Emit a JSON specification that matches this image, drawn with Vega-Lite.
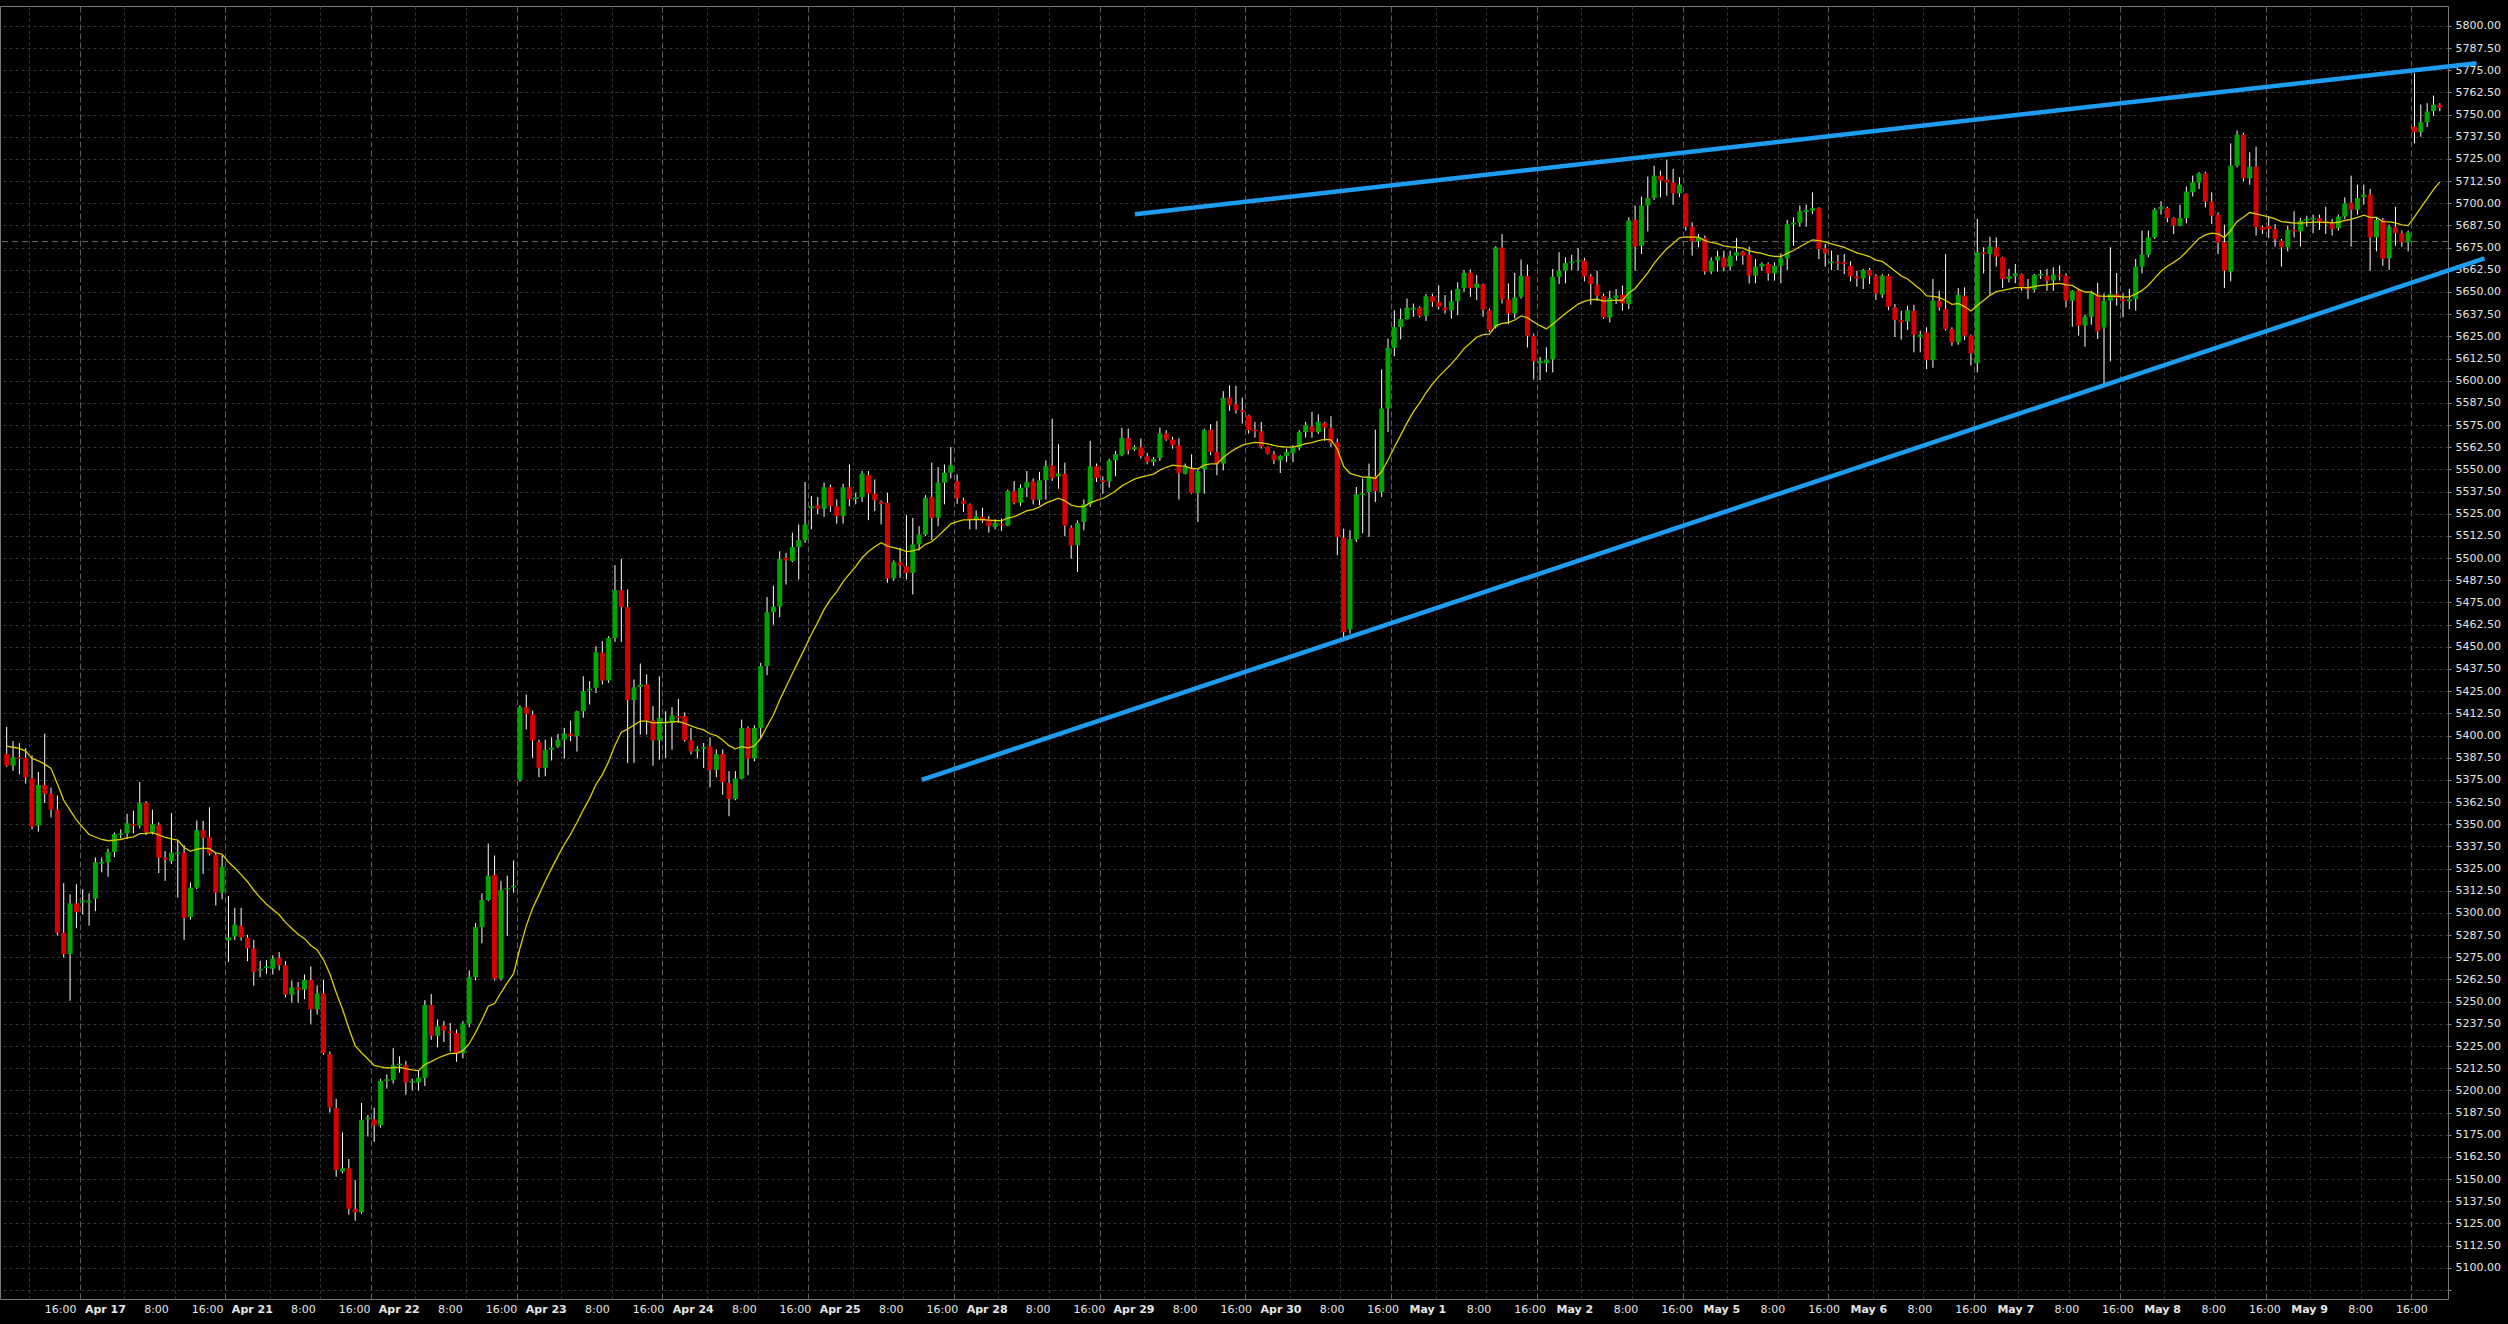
{
  "$schema": "https://vega.github.io/schema/vega-lite/v6.json",
  "background": "#000000",
  "autosize": {"type": "none"},
  "padding": {"left": 0, "top": 6, "right": 60, "bottom": 25},
  "width": 2448,
  "height": 1293,
  "config": {
    "view": {"stroke": "#7a7a7a", "strokeWidth": 1},
    "axis": {"labelFont": "DejaVu Sans", "labelFontSize": 11, "labelColor": "#e6e6e6"}
  },
  "datasets": {
    "cross": [{"p": 5678.4}],
    "trend": [
      {"line": "upper", "k": 178.06, "p": 5693.8},
      {"line": "upper", "k": 389.8, "p": 5778.9},
      {"line": "lower", "k": 144.4, "p": 5375.0},
      {"line": "lower", "k": 391.05, "p": 5669.0}
    ],
    "bars": [
      {"k":0,"o":5389.6,"h":5404.9,"l":5382.4,"c":5383,"m":5394.0},
      {"k":1,"o":5383,"h":5396.9,"l":5380.1,"c":5387.7,"m":5393.4},
      {"k":2,"o":5387.7,"h":5395.7,"l":5378.2,"c":5386.8,"m":5392.8},
      {"k":3,"o":5387.3,"h":5392.9,"l":5372.9,"c":5376.3,"m":5391.2},
      {"k":4,"o":5375.9,"h":5388.7,"l":5347,"c":5348.6,"m":5387.1},
      {"k":5,"o":5349.2,"h":5379.5,"l":5345.8,"c":5372.1,"m":5385.7},
      {"k":6,"o":5372.1,"h":5401.1,"l":5362,"c":5367.1,"m":5383.9},
      {"k":7,"o":5367.1,"h":5370.6,"l":5353.8,"c":5358.2,"m":5381.5},
      {"k":8,"o":5358.2,"h":5366.2,"l":5287.3,"c":5288.9,"m":5372.7},
      {"k":9,"o":5288.9,"h":5316.8,"l":5274.9,"c":5276.8,"m":5363.5},
      {"k":10,"o":5276.8,"h":5310.5,"l":5250.5,"c":5305.4,"m":5358.0},
      {"k":11,"o":5305.4,"h":5316.2,"l":5291.4,"c":5300.4,"m":5352.5},
      {"k":12,"o":5306,"h":5313.4,"l":5299.1,"c":5307,"m":5348.2},
      {"k":13,"o":5306,"h":5311.1,"l":5292.8,"c":5307,"m":5344.2},
      {"k":14,"o":5308,"h":5331.3,"l":5301,"c":5328.6,"m":5342.8},
      {"k":15,"o":5327.8,"h":5331.3,"l":5322.9,"c":5328.8,"m":5341.4},
      {"k":16,"o":5328.6,"h":5336.2,"l":5320.4,"c":5334.3,"m":5340.7},
      {"k":17,"o":5334.3,"h":5345.4,"l":5331.5,"c":5344.4,"m":5341.1},
      {"k":18,"o":5344,"h":5347.1,"l":5342,"c":5344.8,"m":5341.4},
      {"k":19,"o":5344.8,"h":5355.9,"l":5341.6,"c":5350.5,"m":5342.3},
      {"k":20,"o":5350.2,"h":5357.6,"l":5344.8,"c":5349.2,"m":5342.9},
      {"k":21,"o":5349.2,"h":5373.8,"l":5347.7,"c":5362,"m":5344.7},
      {"k":22,"o":5362,"h":5363,"l":5343.9,"c":5345.4,"m":5344.8},
      {"k":23,"o":5345.4,"h":5358.2,"l":5344.3,"c":5350,"m":5345.3},
      {"k":24,"o":5349.6,"h":5351.1,"l":5322.5,"c":5331.1,"m":5344.0},
      {"k":25,"o":5331.1,"h":5334.9,"l":5318.1,"c":5330.1,"m":5342.6},
      {"k":26,"o":5329.2,"h":5356.3,"l":5327.7,"c":5334,"m":5341.8},
      {"k":27,"o":5333.4,"h":5341,"l":5308.6,"c":5334.2,"m":5341.1},
      {"k":28,"o":5334,"h":5338.2,"l":5284.8,"c":5297.2,"m":5336.9},
      {"k":29,"o":5297.7,"h":5317.2,"l":5296.2,"c":5314.3,"m":5334.7},
      {"k":30,"o":5314.3,"h":5352.1,"l":5313.4,"c":5346.7,"m":5335.9},
      {"k":31,"o":5346.7,"h":5351.9,"l":5321.9,"c":5342.3,"m":5336.5},
      {"k":32,"o":5342.9,"h":5359.5,"l":5332.4,"c":5333.4,"m":5336.2},
      {"k":33,"o":5332.8,"h":5334,"l":5304.2,"c":5311.5,"m":5333.9},
      {"k":34,"o":5311.5,"h":5332.4,"l":5307.7,"c":5326.1,"m":5333.1},
      {"k":35,"o":5284.4,"h":5309.6,"l":5272.4,"c":5286.3,"m":5328.7},
      {"k":36,"o":5286.7,"h":5302.9,"l":5284.8,"c":5293.4,"m":5325.3},
      {"k":37,"o":5292.8,"h":5302.9,"l":5284.4,"c":5286.3,"m":5321.6},
      {"k":38,"o":5286.1,"h":5287.6,"l":5272.8,"c":5280,"m":5317.6},
      {"k":39,"o":5280,"h":5284.8,"l":5259,"c":5266.7,"m":5312.8},
      {"k":40,"o":5267.6,"h":5273,"l":5263.8,"c":5268.4,"m":5308.6},
      {"k":41,"o":5269,"h":5273.4,"l":5265.7,"c":5269.8,"m":5304.9},
      {"k":42,"o":5268.6,"h":5276.2,"l":5265.3,"c":5274.3,"m":5302.0},
      {"k":43,"o":5274.7,"h":5277.9,"l":5267.6,"c":5270.5,"m":5299.0},
      {"k":44,"o":5270.5,"h":5273,"l":5252.4,"c":5253.9,"m":5294.7},
      {"k":45,"o":5253.9,"h":5261.9,"l":5249.5,"c":5258.1,"m":5291.2},
      {"k":46,"o":5258,"h":5261,"l":5249.5,"c":5256.8,"m":5288.0},
      {"k":47,"o":5256.8,"h":5265.3,"l":5251.4,"c":5262.3,"m":5285.5},
      {"k":48,"o":5262.3,"h":5269.9,"l":5237.5,"c":5245.7,"m":5281.7},
      {"k":49,"o":5245.7,"h":5259.2,"l":5242.8,"c":5254.7,"m":5279.2},
      {"k":50,"o":5254.7,"h":5262.3,"l":5220,"c":5220.9,"m":5273.6},
      {"k":51,"o":5220.5,"h":5221.9,"l":5187.5,"c":5190.4,"m":5265.7},
      {"k":52,"o":5190,"h":5195.2,"l":5151.3,"c":5155.1,"m":5255.2},
      {"k":53,"o":5154.2,"h":5176.2,"l":5153.2,"c":5156.1,"m":5245.7},
      {"k":54,"o":5156.1,"h":5161.3,"l":5130,"c":5133.2,"m":5235.0},
      {"k":55,"o":5133.2,"h":5149.4,"l":5126.5,"c":5131.3,"m":5225.1},
      {"k":56,"o":5131.3,"h":5192.9,"l":5130.4,"c":5183.2,"m":5221.2},
      {"k":57,"o":5183.7,"h":5186.1,"l":5174,"c":5184.6,"m":5217.7},
      {"k":58,"o":5183.7,"h":5190.2,"l":5171,"c":5180.3,"m":5214.1},
      {"k":59,"o":5180.3,"h":5206.6,"l":5179,"c":5205.3,"m":5213.3},
      {"k":60,"o":5205.3,"h":5209,"l":5201,"c":5206.3,"m":5212.6},
      {"k":61,"o":5205.7,"h":5223.8,"l":5203.8,"c":5214.2,"m":5212.8},
      {"k":62,"o":5214,"h":5219.1,"l":5210,"c":5215,"m":5213.0},
      {"k":63,"o":5214.2,"h":5216.5,"l":5197.5,"c":5204.4,"m":5212.2},
      {"k":64,"o":5204.4,"h":5206.6,"l":5200,"c":5205.3,"m":5211.5},
      {"k":65,"o":5204.5,"h":5211.4,"l":5200,"c":5207.2,"m":5211.1},
      {"k":66,"o":5207,"h":5250.8,"l":5202.4,"c":5248.2,"m":5214.6},
      {"k":67,"o":5248.2,"h":5254.3,"l":5228.5,"c":5230.8,"m":5216.2},
      {"k":68,"o":5230.8,"h":5240,"l":5224.2,"c":5236.2,"m":5218.1},
      {"k":69,"o":5236.5,"h":5239,"l":5227.2,"c":5233.7,"m":5219.6},
      {"k":70,"o":5233.3,"h":5238,"l":5221.9,"c":5232.3,"m":5220.8},
      {"k":71,"o":5232.3,"h":5234.3,"l":5216.1,"c":5220.9,"m":5220.8},
      {"k":72,"o":5220.9,"h":5239,"l":5218,"c":5237.7,"m":5222.4},
      {"k":73,"o":5237.7,"h":5267.6,"l":5235.6,"c":5263.8,"m":5226.3},
      {"k":74,"o":5263.8,"h":5294.3,"l":5261.9,"c":5292,"m":5232.6},
      {"k":75,"o":5292,"h":5311.1,"l":5282.9,"c":5307.3,"m":5239.7},
      {"k":76,"o":5307.3,"h":5339.1,"l":5306.7,"c":5321,"m":5247.4},
      {"k":77,"o":5321.4,"h":5332.4,"l":5261.9,"c":5262.9,"m":5248.9},
      {"k":78,"o":5262.9,"h":5318.1,"l":5261.9,"c":5313,"m":5255.0},
      {"k":79,"o":5313.2,"h":5321,"l":5287,"c":5314,"m":5260.6},
      {"k":80,"o":5314.5,"h":5329.6,"l":5311.5,"c":5315.3,"m":5265.8},
      {"k":81,"o":5375,"h":5417,"l":5374,"c":5416,"m":5280.1},
      {"k":82,"o":5416,"h":5423.1,"l":5403.4,"c":5412.2,"m":5292.7},
      {"k":83,"o":5411.8,"h":5414,"l":5387.4,"c":5397.2,"m":5302.6},
      {"k":84,"o":5396.2,"h":5397.7,"l":5376.5,"c":5381.7,"m":5310.2},
      {"k":85,"o":5381.7,"h":5397.7,"l":5377,"c":5392,"m":5318.0},
      {"k":86,"o":5392,"h":5399,"l":5385.9,"c":5393.2,"m":5325.1},
      {"k":87,"o":5393.8,"h":5400.9,"l":5393,"c":5397.7,"m":5332.0},
      {"k":88,"o":5397.7,"h":5404.3,"l":5387,"c":5401.1,"m":5338.6},
      {"k":89,"o":5401.1,"h":5408.4,"l":5396.8,"c":5399.8,"m":5344.4},
      {"k":90,"o":5399.8,"h":5414,"l":5391,"c":5413.7,"m":5351.0},
      {"k":91,"o":5413.7,"h":5433.4,"l":5410,"c":5425,"m":5358.1},
      {"k":92,"o":5425.4,"h":5430.6,"l":5417.5,"c":5426.4,"m":5364.6},
      {"k":93,"o":5426.9,"h":5450.4,"l":5424,"c":5446.9,"m":5372.4},
      {"k":94,"o":5446.6,"h":5453.2,"l":5428.7,"c":5431,"m":5378.0},
      {"k":95,"o":5431,"h":5456,"l":5429.7,"c":5455,"m":5385.3},
      {"k":96,"o":5455,"h":5496,"l":5452.8,"c":5482,"m":5394.5},
      {"k":97,"o":5482,"h":5499.6,"l":5452.8,"c":5472.4,"m":5401.9},
      {"k":98,"o":5472.4,"h":5482.3,"l":5384.6,"c":5419.9,"m":5403.6},
      {"k":99,"o":5419.9,"h":5431.6,"l":5384.6,"c":5427.2,"m":5405.9},
      {"k":100,"o":5427.4,"h":5440.6,"l":5400.5,"c":5428.7,"m":5408.1},
      {"k":101,"o":5428.7,"h":5434.4,"l":5400.5,"c":5408.4,"m":5408.1},
      {"k":102,"o":5408.4,"h":5416.5,"l":5383,"c":5397.3,"m":5407.1},
      {"k":103,"o":5397.3,"h":5433.4,"l":5386.4,"c":5409.9,"m":5407.3},
      {"k":104,"o":5406.7,"h":5413.7,"l":5387.4,"c":5407.6,"m":5407.4},
      {"k":105,"o":5407.1,"h":5416,"l":5392,"c":5411.4,"m":5407.7},
      {"k":106,"o":5410.9,"h":5420.6,"l":5407.1,"c":5410,"m":5408.0},
      {"k":107,"o":5410.9,"h":5413.1,"l":5396.4,"c":5397.3,"m":5406.9},
      {"k":108,"o":5397.3,"h":5404.3,"l":5389.3,"c":5391.1,"m":5405.4},
      {"k":109,"o":5391.1,"h":5394,"l":5387,"c":5392.3,"m":5404.2},
      {"k":110,"o":5392.6,"h":5395.8,"l":5381.7,"c":5393.6,"m":5403.2},
      {"k":111,"o":5393.9,"h":5399,"l":5370.8,"c":5380.6,"m":5401.0},
      {"k":112,"o":5380.6,"h":5392.1,"l":5376.5,"c":5389.6,"m":5399.9},
      {"k":113,"o":5389.6,"h":5392.1,"l":5366.7,"c":5373.8,"m":5397.5},
      {"k":114,"o":5373.3,"h":5379.9,"l":5354.5,"c":5364.3,"m":5394.3},
      {"k":115,"o":5364.3,"h":5379.9,"l":5363.5,"c":5375.7,"m":5392.5},
      {"k":116,"o":5375.7,"h":5409,"l":5375.2,"c":5404.3,"m":5393.7},
      {"k":117,"o":5404.3,"h":5405.2,"l":5377.6,"c":5387,"m":5393.0},
      {"k":118,"o":5387,"h":5405.8,"l":5385.5,"c":5404.3,"m":5394.1},
      {"k":119,"o":5404.3,"h":5441,"l":5398.7,"c":5439.1,"m":5398.4},
      {"k":120,"o":5439.1,"h":5478,"l":5434,"c":5469.5,"m":5405.2},
      {"k":121,"o":5469.5,"h":5484.5,"l":5462.5,"c":5472.7,"m":5411.6},
      {"k":122,"o":5472.7,"h":5503.9,"l":5466.7,"c":5499.6,"m":5420.0},
      {"k":123,"o":5500.2,"h":5503,"l":5485.1,"c":5498.7,"m":5427.5},
      {"k":124,"o":5498.3,"h":5514.3,"l":5497.8,"c":5506.2,"m":5435.0},
      {"k":125,"o":5506.2,"h":5519,"l":5487.9,"c":5510.1,"m":5442.2},
      {"k":126,"o":5510,"h":5542.9,"l":5508.6,"c":5519,"m":5449.5},
      {"k":127,"o":5528,"h":5535,"l":5516.2,"c":5529.3,"m":5457.1},
      {"k":128,"o":5529.9,"h":5534.4,"l":5524.6,"c":5527.8,"m":5463.8},
      {"k":129,"o":5527.8,"h":5542.5,"l":5523.3,"c":5540,"m":5471.1},
      {"k":130,"o":5540,"h":5541.5,"l":5526.1,"c":5529.3,"m":5476.6},
      {"k":131,"o":5529.3,"h":5533.1,"l":5519.4,"c":5523.7,"m":5481.1},
      {"k":132,"o":5523.7,"h":5541.9,"l":5519.4,"c":5540,"m":5486.7},
      {"k":133,"o":5540,"h":5552.8,"l":5529.3,"c":5533.1,"m":5491.1},
      {"k":134,"o":5533.2,"h":5536.8,"l":5530.3,"c":5534.4,"m":5495.3},
      {"k":135,"o":5534.4,"h":5549.1,"l":5531.6,"c":5547.6,"m":5500.2},
      {"k":136,"o":5546.8,"h":5549.1,"l":5521.4,"c":5536.3,"m":5503.7},
      {"k":137,"o":5536.3,"h":5544.4,"l":5526.5,"c":5532.5,"m":5506.4},
      {"k":138,"o":5531.8,"h":5532.5,"l":5519,"c":5530.6,"m":5508.7},
      {"k":139,"o":5531.2,"h":5536.8,"l":5486.1,"c":5488.5,"m":5506.8},
      {"k":140,"o":5488.5,"h":5498.7,"l":5487.4,"c":5497.7,"m":5505.9},
      {"k":141,"o":5497.7,"h":5505.8,"l":5488.9,"c":5495.9,"m":5505.0},
      {"k":142,"o":5495.5,"h":5524.2,"l":5487.9,"c":5491.7,"m":5503.7},
      {"k":143,"o":5491.7,"h":5522.7,"l":5479.5,"c":5507.7,"m":5504.1},
      {"k":144,"o":5507.7,"h":5518,"l":5504.3,"c":5513.3,"m":5505.0},
      {"k":145,"o":5513.3,"h":5535.5,"l":5512.4,"c":5534,"m":5507.8},
      {"k":146,"o":5534.4,"h":5553.8,"l":5510.1,"c":5522.7,"m":5509.2},
      {"k":147,"o":5522.7,"h":5551.3,"l":5518,"c":5542.5,"m":5512.4},
      {"k":148,"o":5542.5,"h":5552.8,"l":5530.3,"c":5548.1,"m":5515.8},
      {"k":149,"o":5548.1,"h":5562.6,"l":5544.9,"c":5552.4,"m":5519.3},
      {"k":150,"o":5543.4,"h":5547.2,"l":5530.6,"c":5533.6,"m":5520.6},
      {"k":151,"o":5532.5,"h":5534,"l":5526.1,"c":5530.6,"m":5521.6},
      {"k":152,"o":5530.3,"h":5530.8,"l":5516.2,"c":5521.8,"m":5521.6},
      {"k":153,"o":5521.8,"h":5526.9,"l":5516.2,"c":5523.7,"m":5521.8},
      {"k":154,"o":5523.3,"h":5528.4,"l":5519.9,"c":5521.2,"m":5521.7},
      {"k":155,"o":5521.8,"h":5523.7,"l":5514.3,"c":5518,"m":5521.4},
      {"k":156,"o":5517.5,"h":5521.8,"l":5516.2,"c":5519.9,"m":5521.2},
      {"k":157,"o":5519.4,"h":5522.3,"l":5515.2,"c":5518.4,"m":5521.0},
      {"k":158,"o":5518.4,"h":5538.7,"l":5518,"c":5537.8,"m":5522.6},
      {"k":159,"o":5537.8,"h":5543.4,"l":5530.3,"c":5531.2,"m":5523.4},
      {"k":160,"o":5531.2,"h":5541.5,"l":5529.3,"c":5539.7,"m":5524.9},
      {"k":161,"o":5539.7,"h":5549.1,"l":5534.4,"c":5542.9,"m":5526.7},
      {"k":162,"o":5543.3,"h":5544.8,"l":5530.3,"c":5532.9,"m":5527.3},
      {"k":163,"o":5532.9,"h":5548.6,"l":5529.8,"c":5543.9,"m":5528.9},
      {"k":164,"o":5543.9,"h":5555.1,"l":5533,"c":5551.8,"m":5531.0},
      {"k":165,"o":5552.1,"h":5578.6,"l":5543.5,"c":5545.2,"m":5532.4},
      {"k":166,"o":5546.1,"h":5564.2,"l":5539.2,"c":5547.6,"m":5533.8},
      {"k":167,"o":5547.6,"h":5553.8,"l":5512.3,"c":5518.3,"m":5532.3},
      {"k":168,"o":5517.2,"h":5518.5,"l":5499.7,"c":5507.2,"m":5529.9},
      {"k":169,"o":5507.2,"h":5521.3,"l":5492.2,"c":5519.8,"m":5529.0},
      {"k":170,"o":5520.4,"h":5533.1,"l":5515.7,"c":5530.3,"m":5529.1},
      {"k":171,"o":5530.3,"h":5566.1,"l":5528.8,"c":5551.8,"m":5531.3},
      {"k":172,"o":5551.8,"h":5553.3,"l":5542.9,"c":5545.2,"m":5532.6},
      {"k":173,"o":5543.9,"h":5546.1,"l":5536.3,"c":5542.9,"m":5533.6},
      {"k":174,"o":5543.3,"h":5556.1,"l":5539.7,"c":5555.1,"m":5535.6},
      {"k":175,"o":5555.1,"h":5560.4,"l":5546.1,"c":5558.5,"m":5537.8},
      {"k":176,"o":5558,"h":5573.4,"l":5557.4,"c":5567.7,"m":5540.7},
      {"k":177,"o":5567.7,"h":5573,"l":5558.5,"c":5560.8,"m":5542.6},
      {"k":178,"o":5561.2,"h":5563.6,"l":5560.4,"c":5562.5,"m":5544.5},
      {"k":179,"o":5562.5,"h":5567.4,"l":5556.1,"c":5557.4,"m":5545.7},
      {"k":180,"o":5557.4,"h":5559.3,"l":5552.9,"c":5554.2,"m":5546.5},
      {"k":181,"o":5554.2,"h":5557,"l":5552,"c":5555.9,"m":5547.4},
      {"k":182,"o":5556.5,"h":5573.6,"l":5554.8,"c":5570.2,"m":5549.6},
      {"k":183,"o":5570.2,"h":5572.1,"l":5566.1,"c":5566.8,"m":5551.2},
      {"k":184,"o":5566.8,"h":5568.3,"l":5561.7,"c":5563.6,"m":5552.4},
      {"k":185,"o":5563.6,"h":5567.4,"l":5533,"c":5548,"m":5552.0},
      {"k":186,"o":5547.6,"h":5553.3,"l":5547.2,"c":5551.4,"m":5551.9},
      {"k":187,"o":5550.5,"h":5558.5,"l":5536.3,"c":5536.7,"m":5550.5},
      {"k":188,"o":5536.7,"h":5549.9,"l":5520.4,"c":5548.9,"m":5550.3},
      {"k":189,"o":5549.9,"h":5573,"l":5536.3,"c":5572.1,"m":5552.4},
      {"k":190,"o":5572.4,"h":5575.5,"l":5558,"c":5559.8,"m":5553.1},
      {"k":191,"o":5559.8,"h":5577.2,"l":5546.7,"c":5553.3,"m":5553.1},
      {"k":192,"o":5553.3,"h":5594.1,"l":5549.5,"c":5590.3,"m":5556.7},
      {"k":193,"o":5590.5,"h":5597.4,"l":5583,"c":5586.2,"m":5559.5},
      {"k":194,"o":5586.7,"h":5597.1,"l":5581.5,"c":5583.3,"m":5561.7},
      {"k":195,"o":5583.3,"h":5590.5,"l":5575.8,"c":5582.4,"m":5563.7},
      {"k":196,"o":5580.5,"h":5580.8,"l":5570.2,"c":5572.1,"m":5564.5},
      {"k":197,"o":5572.4,"h":5576.8,"l":5567.9,"c":5571.5,"m":5565.2},
      {"k":198,"o":5571.5,"h":5576.8,"l":5561.7,"c":5562.7,"m":5564.9},
      {"k":199,"o":5562.7,"h":5563,"l":5558.5,"c":5558.9,"m":5564.4},
      {"k":200,"o":5558.5,"h":5560.4,"l":5553,"c":5555.1,"m":5563.5},
      {"k":201,"o":5555.1,"h":5558,"l":5548,"c":5557.6,"m":5562.9},
      {"k":202,"o":5557.6,"h":5561.7,"l":5554.2,"c":5559.8,"m":5562.6},
      {"k":203,"o":5559.3,"h":5563.6,"l":5554.2,"c":5562.3,"m":5562.6},
      {"k":204,"o":5562.3,"h":5572.1,"l":5560.8,"c":5571.1,"m":5563.4},
      {"k":205,"o":5571.1,"h":5576.8,"l":5567.9,"c":5574.9,"m":5564.5},
      {"k":206,"o":5574.3,"h":5582.4,"l":5567.9,"c":5571.1,"m":5565.1},
      {"k":207,"o":5571.1,"h":5581.1,"l":5570,"c":5576.8,"m":5566.2},
      {"k":208,"o":5576.2,"h":5576.8,"l":5566.1,"c":5573.6,"m":5566.9},
      {"k":209,"o":5573.2,"h":5580,"l":5562.7,"c":5564.9,"m":5566.7},
      {"k":210,"o":5565.3,"h":5567.4,"l":5501.6,"c":5511.9,"m":5561.5},
      {"k":211,"o":5511.5,"h":5516.6,"l":5455.5,"c":5458.3,"m":5551.7},
      {"k":212,"o":5459.8,"h":5515.7,"l":5457.4,"c":5510.6,"m":5547.8},
      {"k":213,"o":5510.6,"h":5540.1,"l":5509.1,"c":5536,"m":5546.7},
      {"k":214,"o":5535.6,"h":5544.8,"l":5514,"c":5536.5,"m":5545.7},
      {"k":215,"o":5537.3,"h":5553.3,"l":5511.9,"c":5546.1,"m":5545.7},
      {"k":216,"o":5546.1,"h":5572.4,"l":5531.6,"c":5537.7,"m":5544.9},
      {"k":217,"o":5537.3,"h":5606.3,"l":5534.5,"c":5584.3,"m":5548.7},
      {"k":218,"o":5584.3,"h":5623.8,"l":5571.1,"c":5618.5,"m":5555.3},
      {"k":219,"o":5618.5,"h":5639.7,"l":5613.8,"c":5630.2,"m":5562.5},
      {"k":220,"o":5630.2,"h":5640.7,"l":5623.2,"c":5634.7,"m":5569.3},
      {"k":221,"o":5634.7,"h":5646.3,"l":5634.5,"c":5641.1,"m":5576.2},
      {"k":222,"o":5640.1,"h":5643.5,"l":5636,"c":5641.2,"m":5582.4},
      {"k":223,"o":5641.2,"h":5642,"l":5635.6,"c":5636.5,"m":5587.5},
      {"k":224,"o":5636.5,"h":5648.8,"l":5633.7,"c":5647.6,"m":5593.2},
      {"k":225,"o":5647.6,"h":5649.1,"l":5641.6,"c":5644.4,"m":5598.1},
      {"k":226,"o":5644.3,"h":5653.8,"l":5640.1,"c":5641.6,"m":5602.3},
      {"k":227,"o":5641.2,"h":5648.2,"l":5637.9,"c":5639.7,"m":5605.8},
      {"k":228,"o":5639.7,"h":5651,"l":5635,"c":5644.8,"m":5609.5},
      {"k":229,"o":5644.8,"h":5655.5,"l":5636.9,"c":5651.8,"m":5613.6},
      {"k":230,"o":5652.2,"h":5662.3,"l":5650.1,"c":5660.8,"m":5618.1},
      {"k":231,"o":5660.8,"h":5662.7,"l":5647.3,"c":5652.2,"m":5621.3},
      {"k":232,"o":5652.3,"h":5659.5,"l":5645.4,"c":5654.8,"m":5624.5},
      {"k":233,"o":5654.4,"h":5654.8,"l":5636,"c":5640.1,"m":5626.0},
      {"k":234,"o":5639.7,"h":5640.7,"l":5627.5,"c":5628.5,"m":5626.2},
      {"k":235,"o":5630.3,"h":5675.8,"l":5629.4,"c":5675.1,"m":5630.9},
      {"k":236,"o":5675.1,"h":5682.6,"l":5643.5,"c":5645.8,"m":5632.3},
      {"k":237,"o":5645.8,"h":5654.8,"l":5631.9,"c":5637.9,"m":5632.8},
      {"k":238,"o":5637.9,"h":5660.8,"l":5635,"c":5646.9,"m":5634.2},
      {"k":239,"o":5647.3,"h":5668.3,"l":5646.3,"c":5659.1,"m":5636.5},
      {"k":240,"o":5659.1,"h":5665.5,"l":5618.7,"c":5625.3,"m":5635.5},
      {"k":241,"o":5625.3,"h":5626.6,"l":5600.6,"c":5611,"m":5633.1},
      {"k":242,"o":5609.8,"h":5613.4,"l":5600.3,"c":5611.1,"m":5631.0},
      {"k":243,"o":5609.8,"h":5618.8,"l":5604.7,"c":5612,"m":5629.2},
      {"k":244,"o":5612,"h":5663,"l":5604.7,"c":5658.6,"m":5632.0},
      {"k":245,"o":5658.6,"h":5672.4,"l":5654.5,"c":5662,"m":5634.9},
      {"k":246,"o":5662,"h":5669.5,"l":5654.9,"c":5666.3,"m":5637.9},
      {"k":247,"o":5666.2,"h":5671,"l":5662.4,"c":5667.1,"m":5640.6},
      {"k":248,"o":5667.1,"h":5674.8,"l":5662,"c":5668,"m":5643.2},
      {"k":249,"o":5667.7,"h":5669.2,"l":5656,"c":5658.8,"m":5644.7},
      {"k":250,"o":5658.8,"h":5660.1,"l":5642.8,"c":5654.5,"m":5645.7},
      {"k":251,"o":5654.1,"h":5662,"l":5645.1,"c":5647.9,"m":5645.9},
      {"k":252,"o":5647.9,"h":5649.2,"l":5634.8,"c":5635.7,"m":5644.9},
      {"k":253,"o":5635.7,"h":5650.7,"l":5632.9,"c":5646.6,"m":5645.1},
      {"k":254,"o":5646.6,"h":5651.7,"l":5643.2,"c":5648.1,"m":5645.4},
      {"k":255,"o":5648.5,"h":5653.6,"l":5639.5,"c":5643.6,"m":5645.2},
      {"k":256,"o":5643.2,"h":5692.1,"l":5640.4,"c":5690.2,"m":5649.5},
      {"k":257,"o":5690.8,"h":5698.7,"l":5662,"c":5675.6,"m":5652.0},
      {"k":258,"o":5676.1,"h":5703.8,"l":5671.4,"c":5698.7,"m":5656.4},
      {"k":259,"o":5698.7,"h":5715,"l":5684.2,"c":5703,"m":5660.8},
      {"k":260,"o":5703,"h":5721.2,"l":5701.9,"c":5715.6,"m":5666.1},
      {"k":261,"o":5715.6,"h":5718.4,"l":5703.4,"c":5712.8,"m":5670.5},
      {"k":262,"o":5713.2,"h":5724.4,"l":5704.3,"c":5711.8,"m":5674.4},
      {"k":263,"o":5711.8,"h":5719.4,"l":5699.2,"c":5705.6,"m":5677.4},
      {"k":264,"o":5705.6,"h":5714.7,"l":5703.4,"c":5710.5,"m":5680.5},
      {"k":265,"o":5705.3,"h":5705.6,"l":5684.6,"c":5686.8,"m":5681.1},
      {"k":266,"o":5686.8,"h":5689.3,"l":5670.5,"c":5678.4,"m":5680.9},
      {"k":267,"o":5678.6,"h":5682.7,"l":5675.2,"c":5680.8,"m":5680.9},
      {"k":268,"o":5680.4,"h":5681.8,"l":5659.8,"c":5661.6,"m":5679.0},
      {"k":269,"o":5661.6,"h":5669.5,"l":5660.1,"c":5667.7,"m":5678.0},
      {"k":270,"o":5667.7,"h":5673.3,"l":5661.6,"c":5670.1,"m":5677.2},
      {"k":271,"o":5669.5,"h":5673.3,"l":5661.6,"c":5663.9,"m":5676.0},
      {"k":272,"o":5664.3,"h":5673.3,"l":5662,"c":5670.5,"m":5675.4},
      {"k":273,"o":5670.5,"h":5680.4,"l":5667.7,"c":5672.4,"m":5675.2},
      {"k":274,"o":5672.7,"h":5673.3,"l":5665.4,"c":5670.5,"m":5674.7},
      {"k":275,"o":5671,"h":5675.6,"l":5654.9,"c":5659.2,"m":5673.2},
      {"k":276,"o":5659.2,"h":5668.6,"l":5654.9,"c":5664.3,"m":5672.4},
      {"k":277,"o":5664.3,"h":5666.7,"l":5662,"c":5665.8,"m":5671.8},
      {"k":278,"o":5665.8,"h":5666.7,"l":5656.4,"c":5660.5,"m":5670.7},
      {"k":279,"o":5660.5,"h":5666.7,"l":5656.4,"c":5664.8,"m":5670.1},
      {"k":280,"o":5664.8,"h":5671.8,"l":5654.9,"c":5669,"m":5670.0},
      {"k":281,"o":5669,"h":5690.6,"l":5662.4,"c":5688.3,"m":5671.8},
      {"k":282,"o":5688,"h":5692.1,"l":5676.1,"c":5689.1,"m":5673.4},
      {"k":283,"o":5689.1,"h":5698.7,"l":5686.8,"c":5695.5,"m":5675.5},
      {"k":284,"o":5695.1,"h":5699.2,"l":5686.8,"c":5696.2,"m":5677.5},
      {"k":285,"o":5695.9,"h":5706.2,"l":5694,"c":5697.2,"m":5679.4},
      {"k":286,"o":5697.2,"h":5697.7,"l":5668.6,"c":5674.2,"m":5678.9},
      {"k":287,"o":5674.6,"h":5677.1,"l":5664.3,"c":5671.8,"m":5678.2},
      {"k":288,"o":5666.2,"h":5673.3,"l":5662.4,"c":5667.1,"m":5677.1},
      {"k":289,"o":5667.1,"h":5671,"l":5662.4,"c":5666.2,"m":5676.1},
      {"k":290,"o":5666.7,"h":5671.4,"l":5660.1,"c":5665.8,"m":5675.1},
      {"k":291,"o":5664.8,"h":5667.3,"l":5656,"c":5658.8,"m":5673.6},
      {"k":292,"o":5658.8,"h":5662,"l":5653,"c":5657.7,"m":5672.0},
      {"k":293,"o":5657.7,"h":5663,"l":5651.7,"c":5662.4,"m":5671.1},
      {"k":294,"o":5662.4,"h":5663.5,"l":5654.5,"c":5659.2,"m":5670.0},
      {"k":295,"o":5659.2,"h":5660.1,"l":5645.5,"c":5649.2,"m":5668.0},
      {"k":296,"o":5648.5,"h":5660.1,"l":5646.6,"c":5659.2,"m":5667.2},
      {"k":297,"o":5659.2,"h":5660.1,"l":5639.8,"c":5641.7,"m":5664.7},
      {"k":298,"o":5641.3,"h":5643.2,"l":5624.6,"c":5634.2,"m":5661.8},
      {"k":299,"o":5634.2,"h":5639.5,"l":5623.2,"c":5632.9,"m":5659.1},
      {"k":300,"o":5633.3,"h":5642.3,"l":5628.6,"c":5639.8,"m":5657.3},
      {"k":301,"o":5639.5,"h":5642.8,"l":5616,"c":5625.9,"m":5654.3},
      {"k":302,"o":5624.6,"h":5628.2,"l":5616,"c":5626,"m":5651.6},
      {"k":303,"o":5627.2,"h":5630.1,"l":5606.5,"c":5611.6,"m":5647.8},
      {"k":304,"o":5611.6,"h":5657.3,"l":5607.3,"c":5645.1,"m":5647.5},
      {"k":305,"o":5645.1,"h":5650.7,"l":5639.5,"c":5641.3,"m":5646.9},
      {"k":306,"o":5640.4,"h":5671.4,"l":5628.2,"c":5629.1,"m":5645.2},
      {"k":307,"o":5629.1,"h":5630.1,"l":5619.7,"c":5621.6,"m":5643.0},
      {"k":308,"o":5621.6,"h":5652.2,"l":5620.3,"c":5648.5,"m":5643.5},
      {"k":309,"o":5647.9,"h":5652.6,"l":5622.9,"c":5625.4,"m":5641.8},
      {"k":310,"o":5625.4,"h":5626,"l":5608.6,"c":5615.4,"m":5639.3},
      {"k":311,"o":5609.8,"h":5691.2,"l":5604.7,"c":5672.4,"m":5642.4},
      {"k":312,"o":5672.4,"h":5675.2,"l":5660.5,"c":5671.4,"m":5645.2},
      {"k":313,"o":5671.4,"h":5681.2,"l":5648.5,"c":5675.6,"m":5648.1},
      {"k":314,"o":5675.2,"h":5680.8,"l":5664.3,"c":5669.9,"m":5650.2},
      {"k":315,"o":5669.5,"h":5669.9,"l":5652.2,"c":5657.3,"m":5650.9},
      {"k":316,"o":5657.3,"h":5663,"l":5655.4,"c":5658.8,"m":5651.6},
      {"k":317,"o":5658.8,"h":5665.8,"l":5654.9,"c":5660.5,"m":5652.5},
      {"k":318,"o":5660.1,"h":5660.5,"l":5650.7,"c":5652.6,"m":5652.5},
      {"k":319,"o":5652.6,"h":5657.3,"l":5646,"c":5651.3,"m":5652.4},
      {"k":320,"o":5651.3,"h":5660.1,"l":5649.8,"c":5659.6,"m":5653.1},
      {"k":321,"o":5659.2,"h":5662.4,"l":5657.3,"c":5660.1,"m":5653.7},
      {"k":322,"o":5659.2,"h":5663,"l":5650.7,"c":5656.4,"m":5654.0},
      {"k":323,"o":5656.4,"h":5663.9,"l":5650.7,"c":5659.8,"m":5654.5},
      {"k":324,"o":5659.8,"h":5665,"l":5656.4,"c":5658.8,"m":5654.9},
      {"k":325,"o":5659.2,"h":5660.5,"l":5641.3,"c":5645.1,"m":5654.0},
      {"k":326,"o":5645.1,"h":5651.1,"l":5630.4,"c":5650.7,"m":5653.7},
      {"k":327,"o":5650.7,"h":5651.7,"l":5625.4,"c":5631,"m":5651.5},
      {"k":328,"o":5631,"h":5637.2,"l":5619.2,"c":5636.1,"m":5650.0},
      {"k":329,"o":5636.1,"h":5650.7,"l":5631.6,"c":5649.2,"m":5649.9},
      {"k":330,"o":5648.9,"h":5655.1,"l":5623.5,"c":5627.8,"m":5647.8},
      {"k":331,"o":5630,"h":5649.2,"l":5598.1,"c":5645.1,"m":5647.5},
      {"k":332,"o":5645.1,"h":5675.2,"l":5610.9,"c":5648.9,"m":5647.7},
      {"k":333,"o":5648.9,"h":5660.7,"l":5642.3,"c":5646.6,"m":5647.6},
      {"k":334,"o":5645.9,"h":5649.2,"l":5635.7,"c":5644.7,"m":5647.3},
      {"k":335,"o":5644.7,"h":5651.7,"l":5640.4,"c":5645.9,"m":5647.2},
      {"k":336,"o":5645.9,"h":5668.6,"l":5639.5,"c":5664.3,"m":5648.8},
      {"k":337,"o":5664.3,"h":5684.6,"l":5660.5,"c":5671,"m":5650.9},
      {"k":338,"o":5671,"h":5684.6,"l":5669.5,"c":5680.8,"m":5653.8},
      {"k":339,"o":5680.8,"h":5697.4,"l":5679.9,"c":5696.4,"m":5657.8},
      {"k":340,"o":5696.6,"h":5701.1,"l":5693.6,"c":5698.1,"m":5661.7},
      {"k":341,"o":5697.4,"h":5698.1,"l":5689.3,"c":5691.7,"m":5664.5},
      {"k":342,"o":5691.7,"h":5692.1,"l":5682.7,"c":5687.4,"m":5666.7},
      {"k":343,"o":5687.4,"h":5699.2,"l":5687,"c":5691.7,"m":5669.1},
      {"k":344,"o":5691.7,"h":5709.4,"l":5688.7,"c":5706.6,"m":5672.7},
      {"k":345,"o":5706.2,"h":5715.6,"l":5703.8,"c":5711.8,"m":5676.4},
      {"k":346,"o":5711.8,"h":5717.5,"l":5708.1,"c":5716.9,"m":5680.2},
      {"k":347,"o":5716.9,"h":5717.8,"l":5697.7,"c":5700.9,"m":5682.2},
      {"k":348,"o":5700.9,"h":5706.2,"l":5688.3,"c":5693,"m":5683.2},
      {"k":349,"o":5693.6,"h":5694.9,"l":5671.4,"c":5678,"m":5682.7},
      {"k":350,"o":5678,"h":5688,"l":5652.2,"c":5662,"m":5680.8},
      {"k":351,"o":5661.4,"h":5733.8,"l":5656,"c":5721.2,"m":5684.6},
      {"k":352,"o":5721.2,"h":5741,"l":5720.3,"c":5738.7,"m":5689.8},
      {"k":353,"o":5738.7,"h":5739.7,"l":5712.4,"c":5714.1,"m":5692.1},
      {"k":354,"o":5714.1,"h":5728.8,"l":5710.5,"c":5720.7,"m":5694.8},
      {"k":355,"o":5720.7,"h":5732,"l":5681.8,"c":5686.5,"m":5694.0},
      {"k":356,"o":5686.5,"h":5687.4,"l":5682.7,"c":5685,"m":5693.2},
      {"k":357,"o":5687.2,"h":5692.5,"l":5680.4,"c":5685.5,"m":5692.4},
      {"k":358,"o":5685.5,"h":5688.3,"l":5675.6,"c":5679.9,"m":5691.2},
      {"k":359,"o":5678.9,"h":5679.9,"l":5664.3,"c":5675.2,"m":5689.7},
      {"k":360,"o":5675.2,"h":5687.4,"l":5672.9,"c":5685.1,"m":5689.3},
      {"k":361,"o":5685.1,"h":5695.5,"l":5680.8,"c":5684.2,"m":5688.8},
      {"k":362,"o":5684.2,"h":5691.7,"l":5675.6,"c":5690.2,"m":5688.9},
      {"k":363,"o":5690.2,"h":5693,"l":5686.8,"c":5691.2,"m":5689.1},
      {"k":364,"o":5690.8,"h":5693.6,"l":5683.1,"c":5691.7,"m":5689.4},
      {"k":365,"o":5691.7,"h":5693.6,"l":5685,"c":5689.8,"m":5689.4},
      {"k":366,"o":5689.8,"h":5698.1,"l":5682.7,"c":5688.7,"m":5689.3},
      {"k":367,"o":5688.7,"h":5691.2,"l":5681.8,"c":5685.5,"m":5689.0},
      {"k":368,"o":5685.9,"h":5693.6,"l":5684.6,"c":5692.5,"m":5689.3},
      {"k":369,"o":5692.5,"h":5703.4,"l":5691.2,"c":5700,"m":5690.3},
      {"k":370,"o":5700.4,"h":5715.6,"l":5675.6,"c":5696.4,"m":5690.9},
      {"k":371,"o":5696.4,"h":5710.5,"l":5693.6,"c":5703,"m":5692.0},
      {"k":372,"o":5703.4,"h":5710.5,"l":5699.2,"c":5704.9,"m":5693.3},
      {"k":373,"o":5704.9,"h":5708.1,"l":5662,"c":5680.8,"m":5692.1},
      {"k":374,"o":5680.8,"h":5691.7,"l":5672.9,"c":5690.6,"m":5692.0},
      {"k":375,"o":5690.6,"h":5691.7,"l":5664.8,"c":5668.6,"m":5689.7},
      {"k":376,"o":5668.9,"h":5688,"l":5662.4,"c":5686.8,"m":5689.5},
      {"k":377,"o":5686.8,"h":5698.1,"l":5676.1,"c":5683.1,"m":5688.9},
      {"k":378,"o":5683.1,"h":5684.6,"l":5675.6,"c":5678,"m":5687.8},
      {"k":379,"o":5678,"h":5684.6,"l":5672.9,"c":5683.6,"m":5687.4},
      {"k":380,"o":5743.2,"h":5773.3,"l":5733.8,"c":5740,"m":5692.4},
      {"k":381,"o":5740,"h":5755.6,"l":5737.5,"c":5745.7,"m":5697.5},
      {"k":382,"o":5745.7,"h":5756.4,"l":5742.9,"c":5751.7,"m":5702.6},
      {"k":383,"o":5751.9,"h":5760.7,"l":5749.4,"c":5755.6,"m":5707.7},
      {"k":384,"o":5755.6,"h":5756.4,"l":5751.9,"c":5753.8,"m":5712.1}
    ]
  },
  "data": {"name": "bars"},
  "resolve": {"axis": {"x": "independent"}},
  "layer": [
    {
      "data": {"name": "cross"},
      "mark": {"type": "rule", "color": "#6e6e6e", "strokeWidth": 1, "strokeDash": [6, 4]},
      "encoding": {
        "y": {
          "field": "p", "type": "quantitative",
          "scale": {"domain": [5082.4, 5811.2], "nice": false, "zero": false},
          "axis": {
            "orient": "right", "title": null, "ticks": true, "tickSize": 3, "tickColor": "#8a8a8a", "domain": false, "grid": true,
            "gridColor": "#363636", "gridDash": [3, 3],
            "labelPadding": 4, "labelBaseline": "middle", "labelOverlap": false, "labelFlush": false, "labelBound": false,
            "values": [5087.5,5100,5112.5,5125,5137.5,5150,5162.5,5175,5187.5,5200,5212.5,5225,5237.5,5250,5262.5,5275,5287.5,5300,5312.5,5325,5337.5,5350,5362.5,5375,5387.5,5400,5412.5,5425,5437.5,5450,5462.5,5475,5487.5,5500,5512.5,5525,5537.5,5550,5562.5,5575,5587.5,5600,5612.5,5625,5637.5,5650,5662.5,5675,5687.5,5700,5712.5,5725,5737.5,5750,5762.5,5775,5787.5,5800],
            "labelExpr": "datum.value < 5095 ? '' : format(datum.value, '.2f')"
          }
        }
      }
    },
    {
      "mark": {"type": "rule", "color": "#ffffff", "strokeWidth": 1},
      "encoding": {
        "x": {
          "field": "k", "type": "quantitative",
          "scale": {"domain": [-0.267, 384.5], "nice": false, "zero": false},
          "axis": {
            "orient": "bottom", "title": null, "labels": false, "ticks": false, "domain": false, "grid": true,
            "values": [3.5,11.5,18.5,26.5,34.5,41.5,49.5,57.5,64.5,72.5,80.5,87.5,95.5,103.5,110.5,118.5,126.5,133.5,141.5,149.5,156.5,164.5,172.5,179.5,187.5,195.5,202.5,210.5,218.5,225.5,233.5,241.5,248.5,256.5,264.5,271.5,279.5,287.5,294.5,302.5,310.5,317.5,325.5,333.5,340.5,348.5,356.5,363.5,371.5,379.5],
            "gridColor": {"condition": {"test": "(datum.value - 11.5) % 23 == 0", "value": "#5e5e5e"}, "value": "#363636"},
            "gridDash": {"condition": {"test": "(datum.value - 11.5) % 23 == 0", "value": [6, 3]}, "value": [3, 3]},
            "gridWidth": 1
          }
        },
        "y": {
          "field": "l", "type": "quantitative",
          "scale": {"domain": [5082.4, 5811.2], "nice": false, "zero": false},
          "axis": {
            "orient": "right", "title": null, "ticks": true, "tickSize": 3, "tickColor": "#8a8a8a", "domain": false, "grid": true,
            "gridColor": "#363636", "gridDash": [3, 3],
            "labelPadding": 4, "labelBaseline": "middle", "labelOverlap": false, "labelFlush": false, "labelBound": false,
            "values": [5087.5,5100,5112.5,5125,5137.5,5150,5162.5,5175,5187.5,5200,5212.5,5225,5237.5,5250,5262.5,5275,5287.5,5300,5312.5,5325,5337.5,5350,5362.5,5375,5387.5,5400,5412.5,5425,5437.5,5450,5462.5,5475,5487.5,5500,5512.5,5525,5537.5,5550,5562.5,5575,5587.5,5600,5612.5,5625,5637.5,5650,5662.5,5675,5687.5,5700,5712.5,5725,5737.5,5750,5762.5,5775,5787.5,5800],
            "labelExpr": "datum.value < 5095 ? '' : format(datum.value, '.2f')"
          }
        },
        "y2": {"field": "h"}
      }
    },
    {
      "mark": {"type": "bar", "width": 5},
      "encoding": {
        "x": {
          "field": "k", "type": "quantitative",
          "scale": {"domain": [-0.267, 384.5], "nice": false, "zero": false},
          "axis": {
            "orient": "bottom", "title": null, "grid": false, "ticks": false, "domain": false,
            "labelPadding": 4, "labelAlign": "center", "labelOverlap": false, "labelFlush": false, "labelBound": false,
            "values": [8.44,15.5,23.56,31.63,38.69,46.75,54.82,61.88,69.94,78.01,85.07,93.13,101.21,108.27,116.33,124.4,131.46,139.52,147.59,154.65,162.71,170.78,177.84,185.9,193.97,201.03,209.09,217.16,224.22,232.28,240.36,247.42,255.48,263.55,270.61,278.67,286.74,293.8,301.86,309.93,316.99,325.05,333.12,340.18,348.24,356.31,363.37,371.43,379.51],
            "labelExpr": "['16:00','Apr 17','8:00','16:00','Apr 21','8:00','16:00','Apr 22','8:00','16:00','Apr 23','8:00','16:00','Apr 24','8:00','16:00','Apr 25','8:00','16:00','Apr 28','8:00','16:00','Apr 29','8:00','16:00','Apr 30','8:00','16:00','May 1','8:00','16:00','May 2','8:00','16:00','May 5','8:00','16:00','May 6','8:00','16:00','May 7','8:00','16:00','May 8','8:00','16:00','May 9','8:00','16:00'][indexof([8.44,15.5,23.56,31.63,38.69,46.75,54.82,61.88,69.94,78.01,85.07,93.13,101.21,108.27,116.33,124.4,131.46,139.52,147.59,154.65,162.71,170.78,177.84,185.9,193.97,201.03,209.09,217.16,224.22,232.28,240.36,247.42,255.48,263.55,270.61,278.67,286.74,293.8,301.86,309.93,316.99,325.05,333.12,340.18,348.24,356.31,363.37,371.43,379.51], datum.value)]",
            "labelFontWeight": {"condition": {"test": "indexof([15.5,38.69,61.88,85.07,108.27,131.46,154.65,177.84,201.03,224.22,247.42,270.61,293.8,316.99,340.18,363.37], datum.value) >= 0", "value": "bold"}, "value": "normal"}
          }
        },
        "y": {
          "field": "o", "type": "quantitative",
          "scale": {"domain": [5082.4, 5811.2], "nice": false, "zero": false},
          "axis": {
            "orient": "right", "title": null, "ticks": true, "tickSize": 3, "tickColor": "#8a8a8a", "domain": false, "grid": true,
            "gridColor": "#363636", "gridDash": [3, 3],
            "labelPadding": 4, "labelBaseline": "middle", "labelOverlap": false, "labelFlush": false, "labelBound": false,
            "values": [5087.5,5100,5112.5,5125,5137.5,5150,5162.5,5175,5187.5,5200,5212.5,5225,5237.5,5250,5262.5,5275,5287.5,5300,5312.5,5325,5337.5,5350,5362.5,5375,5387.5,5400,5412.5,5425,5437.5,5450,5462.5,5475,5487.5,5500,5512.5,5525,5537.5,5550,5562.5,5575,5587.5,5600,5612.5,5625,5637.5,5650,5662.5,5675,5687.5,5700,5712.5,5725,5737.5,5750,5762.5,5775,5787.5,5800],
            "labelExpr": "datum.value < 5095 ? '' : format(datum.value, '.2f')"
          }
        },
        "y2": {"field": "c"},
        "color": {"condition": {"test": "datum.c >= datum.o", "value": "#00a400"}, "value": "#d60000"}
      }
    },
    {
      "mark": {"type": "line", "color": "#d8d000", "strokeWidth": 1.3},
      "encoding": {
        "x": {"field": "k", "type": "quantitative", "scale": {"domain": [-0.267, 384.5], "nice": false, "zero": false}, "axis": null},
        "y": {
          "field": "m", "type": "quantitative",
          "scale": {"domain": [5082.4, 5811.2], "nice": false, "zero": false},
          "axis": {
            "orient": "right", "title": null, "ticks": true, "tickSize": 3, "tickColor": "#8a8a8a", "domain": false, "grid": true,
            "gridColor": "#363636", "gridDash": [3, 3],
            "labelPadding": 4, "labelBaseline": "middle", "labelOverlap": false, "labelFlush": false, "labelBound": false,
            "values": [5087.5,5100,5112.5,5125,5137.5,5150,5162.5,5175,5187.5,5200,5212.5,5225,5237.5,5250,5262.5,5275,5287.5,5300,5312.5,5325,5337.5,5350,5362.5,5375,5387.5,5400,5412.5,5425,5437.5,5450,5462.5,5475,5487.5,5500,5512.5,5525,5537.5,5550,5562.5,5575,5587.5,5600,5612.5,5625,5637.5,5650,5662.5,5675,5687.5,5700,5712.5,5725,5737.5,5750,5762.5,5775,5787.5,5800],
            "labelExpr": "datum.value < 5095 ? '' : format(datum.value, '.2f')"
          }
        }
      }
    },
    {
      "data": {"name": "trend"},
      "mark": {"type": "line", "color": "#1e9cf0", "strokeWidth": 4.5, "strokeCap": "butt", "clip": false},
      "encoding": {
        "x": {"field": "k", "type": "quantitative", "scale": {"domain": [-0.267, 384.5], "nice": false, "zero": false}, "axis": null},
        "y": {
          "field": "p", "type": "quantitative",
          "scale": {"domain": [5082.4, 5811.2], "nice": false, "zero": false},
          "axis": {
            "orient": "right", "title": null, "ticks": true, "tickSize": 3, "tickColor": "#8a8a8a", "domain": false, "grid": true,
            "gridColor": "#363636", "gridDash": [3, 3],
            "labelPadding": 4, "labelBaseline": "middle", "labelOverlap": false, "labelFlush": false, "labelBound": false,
            "values": [5087.5,5100,5112.5,5125,5137.5,5150,5162.5,5175,5187.5,5200,5212.5,5225,5237.5,5250,5262.5,5275,5287.5,5300,5312.5,5325,5337.5,5350,5362.5,5375,5387.5,5400,5412.5,5425,5437.5,5450,5462.5,5475,5487.5,5500,5512.5,5525,5537.5,5550,5562.5,5575,5587.5,5600,5612.5,5625,5637.5,5650,5662.5,5675,5687.5,5700,5712.5,5725,5737.5,5750,5762.5,5775,5787.5,5800],
            "labelExpr": "datum.value < 5095 ? '' : format(datum.value, '.2f')"
          }
        },
        "detail": {"field": "line"}
      }
    }
  ]
}
